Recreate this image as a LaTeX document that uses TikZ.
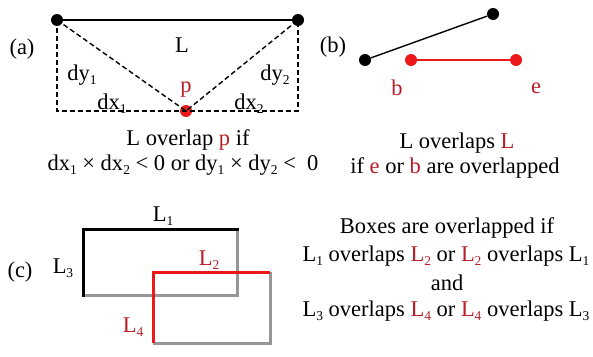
\documentclass[tikz,border=0pt]{standalone}
\usepackage{fontspec}
\setmainfont{Liberation Serif}
\definecolor{txtred}{RGB}{185,30,40}
\definecolor{brightred}{RGB}{235,25,25}
\definecolor{boxgray}{RGB}{150,150,150}
\newcommand{\sbs}[1]{\raisebox{-0.4ex}{\fontsize{13.5}{13.5}\selectfont #1}}
\newcommand{\rd}[1]{\textcolor{txtred}{#1}}
\begin{document}
\begin{tikzpicture}[x=1pt,y=-1pt,
  lbl/.style={font=\fontsize{22.5}{26}\selectfont, inner sep=0pt},
  dot/.style={circle, fill=black, minimum size=12pt, inner sep=0pt},
  rdot/.style={circle, fill=brightred, minimum size=12pt, inner sep=0pt},
  dsh/.style={dashed, dash pattern=on 5pt off 3pt, line width=1.4pt},
  blk/.style={line width=3pt, black},
  gry/.style={line width=3pt, boxgray},
  rln/.style={line width=3pt, brightred}]
\useasboundingbox (0,0) rectangle (593,356);
\fill[white] (0,0) rectangle (593,356);
% ---------- (a)
\node[dot] (a1) at (57,20) {};
\node[dot] (a2) at (298,20) {};
\node[rdot] (p) at (186,111) {};
\coordinate (c1) at (57,111);
\coordinate (c2) at (298,111);
\draw[line width=2.2pt] (a1) -- (a2);
\draw[dsh] (a1.center) -- (c1) -- (c2) -- (a2.center);
\draw[dsh] (a1.center) -- (p.center) -- (a2.center);
\node[lbl] (la) at (22,49) {(a)};
\node[lbl] (lL) at (182,45) {L};
\node[lbl] (ldy1) at (82,75) {dy\sbs{1}};
\node[lbl] (ldy2) at (275,75) {dy\sbs{2}};
\node[lbl, text=txtred] (lp) at (186,90) {p};
\node[lbl] (ldx1) at (112,104) {dx\sbs{1}};
\node[lbl] (ldx2) at (249,104) {dx\sbs{2}};
\node[lbl] (ta1) at (188,140) {L overlap \rd{p} if};
\node[lbl] (ta2) at (183,165) {dx\sbs{1} × dx\sbs{2} < 0 or dy\sbs{1} × dy\sbs{2} <\ \ 0};
% ---------- (b)
\node[dot] (b1) at (365,60) {};
\node[dot] (b2) at (493,14) {};
\node[rdot] (rb) at (411,60) {};
\node[rdot] (re) at (516,60) {};
\draw[line width=1.4pt] (b1) -- (b2);
\draw[line width=1.4pt, brightred] (rb) -- (re);
\node[lbl] (lbb) at (333,47) {(b)};
\node[lbl, text=txtred] (lb) at (397,88) {b};
\node[lbl, text=txtred] (le) at (536,88) {e};
\node[lbl] (tb1) at (457,143) {L overlaps \rd{L}};
\node[lbl] (tb2) at (455,168) {if \rd{e} or \rd{b} are overlapped};
% ---------- (c)
\coordinate (p1) at (83,229);
\coordinate (p2) at (237,229);
\coordinate (p3) at (237,295);
\coordinate (p4) at (83,295);
\coordinate (q1) at (153,272);
\coordinate (q2) at (270,272);
\coordinate (q3) at (270,343);
\coordinate (q4) at (153,343);
\draw[gry] (p2) -- (p3) -- (p4);
\draw[blk, line cap=rect] (p4) -- (p1) -- (p2);
\draw[gry] (q2) -- (q3) -- (q4);
\draw[rln] (q4) -- (q1) -- (q2);
\node[lbl] (lc) at (20,272) {(c)};
\node[lbl] (lL1) at (163,216) {L\sbs{1}};
\node[lbl] (lL3) at (63,268) {L\sbs{3}};
\node[lbl, text=txtred] (lL2) at (209,260) {L\sbs{2}};
\node[lbl, text=txtred] (lL4) at (133,327) {L\sbs{4}};
\node[lbl] (tc1) at (447,228) {Boxes are overlapped if};
\node[lbl] (tc2) at (446,256) {L\sbs{1} overlaps \rd{L\sbs{2}} or \rd{L\sbs{2}} overlaps L\sbs{1}};
\node[lbl] (tc3) at (447,283) {and};
\node[lbl] (tc4) at (446,311) {L\sbs{3} overlaps \rd{L\sbs{4}} or \rd{L\sbs{4}} overlaps L\sbs{3}};
\end{tikzpicture}
\end{document}
